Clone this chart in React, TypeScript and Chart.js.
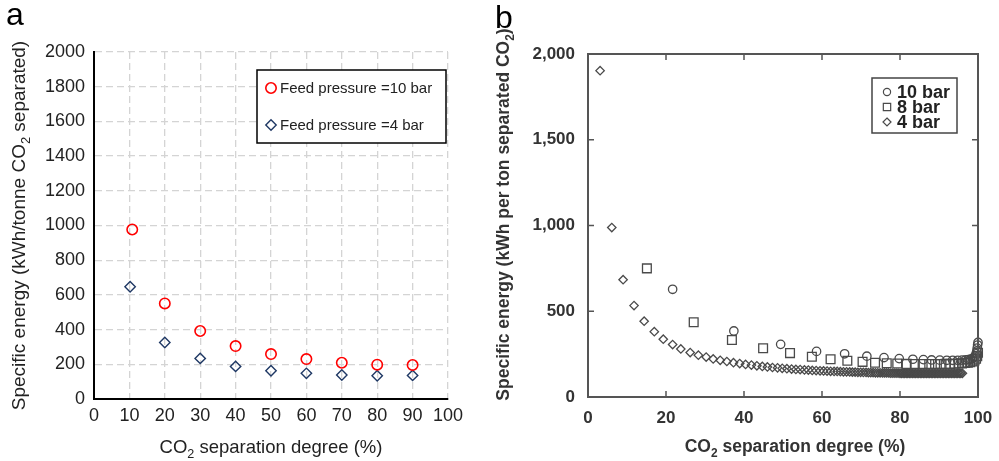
import { useEffect, useRef } from 'react';
import { Chart, registerables } from 'chart.js';

Chart.register(...registerables);

const FONT = '"Liberation Sans", Arial, Helvetica, sans-serif';

// ---------- Panel a ----------
const aSep10 = [10.8, 20, 30, 40, 50, 60, 70, 80, 90];
const aEnergy10 = [977, 551, 392, 305, 259, 230, 209, 198, 196];
const aSep4 = [10.2, 20, 30, 40, 50, 60, 70, 80, 90];
const aEnergy4 = [647, 326, 234, 188, 163, 148, 138, 134, 136];
const aXTicks = [0, 10, 20, 30, 40, 50, 60, 70, 80, 90, 100];
const aYTicks = [0, 200, 400, 600, 800, 1000, 1200, 1400, 1600, 1800, 2000];
const aLabels = ['Feed pressure =10 bar', 'Feed pressure =4 bar'];

// ---------- Panel b ----------
const b10Sep = [21.7, 37.4, 49.4, 58.6, 65.8, 71.5, 75.9, 79.8, 83.3, 86.0, 88.1, 90.2, 92.0, 93.5, 94.8, 95.9, 96.8, 97.5, 98.1, 98.6, 99.0, 99.3, 99.5, 99.7, 99.8, 99.9, 100];
const b10Energy = [628, 385, 307, 266, 252, 238, 230, 224, 220, 218, 216, 215, 214, 214, 214, 215, 216, 218, 221, 225, 231, 240, 252, 268, 285, 303, 318];
const b8Sep = [15.1, 27.1, 36.9, 44.9, 51.8, 57.4, 62.2, 66.5, 70.4, 73.6, 76.6, 79.3, 81.7, 83.8, 85.8, 87.5, 89.0, 90.4, 91.7, 92.9, 94.0, 95.0, 95.9, 96.7, 97.4, 98.0, 98.6, 99.1, 99.5, 99.8, 100];
const b8Energy = [750, 436, 332, 284, 256, 235, 220, 211, 205, 200, 197, 195, 193, 192, 192, 192, 192, 192, 193, 193, 194, 195, 196, 198, 200, 203, 207, 213, 223, 238, 258];
const b4Sep = [3.1, 6.1, 9.0, 11.8, 14.4, 17.0, 19.3, 21.7, 23.8, 26.2, 28.3, 30.3, 32.1, 33.9, 35.6, 37.3, 38.9, 40.4, 41.9, 43.3, 44.7, 46.0, 47.3, 48.6, 49.8, 51.0, 52.2, 53.3, 54.4, 55.5, 56.5, 57.5, 58.5, 59.5, 60.4, 61.3, 62.2, 63.1, 63.9, 64.7, 65.5, 66.3, 67.1, 67.8, 68.5, 69.2, 69.9, 70.6, 71.3, 71.9, 72.5, 73.1, 73.7, 74.3, 74.9, 75.5, 76.0, 76.5, 77.0, 77.5, 78.0, 78.5, 79.0, 79.5, 80.0, 80.4, 80.8, 81.2, 81.6, 82.0, 82.4, 82.8, 83.2, 83.6, 84.0, 84.4, 84.8, 85.2, 85.6, 86.0, 86.4, 86.8, 87.2, 87.6, 88.0, 88.4, 88.8, 89.2, 89.6, 90.0, 90.4, 90.8, 91.2, 91.6, 92.0, 92.4, 92.8, 93.2, 93.6, 94.0, 94.4, 94.8, 95.2, 95.6, 96.0];
const b4Energy = [1903, 988, 684, 533, 442, 381, 337, 306, 280, 259, 244, 233, 222, 214, 207, 200, 195, 190, 186, 182, 178, 175, 172, 170, 167, 165, 163, 161, 160, 158, 157, 155, 154, 153, 152, 151, 150, 149, 149, 148, 147, 147, 146, 145, 145, 144, 144, 143, 143, 142, 142, 142, 141, 141, 141, 140, 140, 140, 140, 139, 139, 139, 139, 139, 138, 138, 138, 138, 138, 138, 138, 138, 137, 137, 137, 137, 137, 137, 137, 137, 137, 137, 137, 137, 137, 137, 137, 137, 137, 137, 137, 137, 137, 137, 137, 137, 137, 137, 137, 137, 137, 138, 138, 138, 138];
const bXTicks = [0, 20, 40, 60, 80, 100];
const bYTicks = [0, 500, 1000, 1500, 2000];
const bLabels = ['10 bar', '8 bar', '4 bar'];

const zip = (xs: number[], ys: number[]) => xs.map((x, i) => ({ x, y: ys[i] }));

type Seg = { t: string; sub?: boolean };

function drawRich(ctx: CanvasRenderingContext2D, segs: Seg[], x: number, y: number, size: number, weight: string, color: string, rotate: boolean) {
  ctx.save();
  ctx.translate(x, y);
  if (rotate) ctx.rotate(-Math.PI / 2);
  const subSize = size * 0.68;
  const widths = segs.map((s) => {
    ctx.font = `${weight} ${s.sub ? subSize : size}px ${FONT}`;
    return ctx.measureText(s.t).width;
  });
  const total = widths.reduce((a, b) => a + b, 0);
  let cx = -total / 2;
  ctx.fillStyle = color;
  ctx.textAlign = 'left';
  ctx.textBaseline = 'alphabetic';
  segs.forEach((s, i) => {
    ctx.font = `${weight} ${s.sub ? subSize : size}px ${FONT}`;
    ctx.fillText(s.t, cx, s.sub ? size * 0.28 : 0);
    cx += widths[i];
  });
  ctx.restore();
}

function drawMarker(ctx: CanvasRenderingContext2D, style: string, x: number, y: number, r: number, color: string, lw: number) {
  ctx.save();
  ctx.strokeStyle = color;
  ctx.lineWidth = lw;
  ctx.beginPath();
  if (style === 'circle') ctx.arc(x, y, r, 0, Math.PI * 2);
  else if (style === 'rect') {
    const s = r * Math.SQRT1_2;
    ctx.rect(x - s, y - s, 2 * s, 2 * s);
  } else {
    ctx.moveTo(x, y - r);
    ctx.lineTo(x + r, y);
    ctx.lineTo(x, y + r);
    ctx.lineTo(x - r, y);
    ctx.closePath();
  }
  ctx.stroke();
  ctx.restore();
}

function tickSetter(values: number[]) {
  return (scale: any) => {
    scale.ticks = values.map((v) => ({ value: v }));
  };
}

function configA(): any {
  const decor = {
    id: 'decorA',
    afterDraw(chart: any) {
      const ctx: CanvasRenderingContext2D = chart.ctx;
      ctx.save();
      ctx.fillStyle = '#000';
      ctx.font = `32px ${FONT}`;
      ctx.textAlign = 'left';
      ctx.textBaseline = 'alphabetic';
      ctx.fillText('a', 6, 25);
      ctx.restore();
      drawRich(ctx, [{ t: 'Specific energy (kWh/tonne CO' }, { t: '2', sub: true }, { t: ' separated)' }], 25, 225.5, 19, 'normal', '#222', true);
      const xs = chart.scales.x;
      drawRich(ctx, [{ t: 'CO' }, { t: '2', sub: true }, { t: ' separation degree (%)' }], (xs.left + xs.right) / 2, 453, 18.5, 'normal', '#222', false);
      ctx.save();
      ctx.fillStyle = '#fff';
      ctx.fillRect(257, 70, 189, 73);
      ctx.strokeStyle = '#000';
      ctx.lineWidth = 1.5;
      ctx.strokeRect(257, 70, 189, 73);
      const rows = [88, 125];
      chart.data.datasets.forEach((ds: any, i: number) => {
        drawMarker(ctx, ds.pointStyle, 271, rows[i], ds.pointRadius, ds.borderColor, ds.borderWidth);
        ctx.fillStyle = '#222';
        ctx.font = `15px ${FONT}`;
        ctx.textAlign = 'left';
        ctx.textBaseline = 'middle';
        ctx.fillText(ds.label, 280, rows[i] + 1);
      });
      ctx.restore();
    },
  };
  return {
    type: 'scatter',
    data: {
      datasets: [
        { label: aLabels[0], data: zip(aSep10, aEnergy10), pointStyle: 'circle', pointRadius: 5.2, borderColor: '#ff0000', backgroundColor: 'rgba(255,255,255,0)', borderWidth: 1.6, clip: false },
        { label: aLabels[1], data: zip(aSep4, aEnergy4), pointStyle: 'rectRot', pointRadius: 5.2, borderColor: '#1f3864', backgroundColor: 'rgba(255,255,255,0)', borderWidth: 1.4, clip: false },
      ],
    },
    options: {
      animation: false,
      responsive: false,
      devicePixelRatio: 1,
      events: [],
      layout: { padding: { top: 52, right: 42, left: 0, bottom: 0 } },
      plugins: { legend: { display: false }, tooltip: { enabled: false } },
      scales: {
        x: {
          type: 'linear', min: 0, max: 100,
          afterBuildTicks: tickSetter(aXTicks),
          afterFit: (s: any) => { s.height = 62; },
          grid: { color: '#d4d4d4', lineWidth: 1.3, drawTicks: false },
          border: { display: true, color: '#000', width: 2, dash: [7, 4] },
          ticks: { padding: 6, color: '#222', font: { family: FONT, size: 18 }, maxRotation: 0, autoSkip: false, callback: (v: number) => String(v) },
        },
        y: {
          type: 'linear', min: 0, max: 2000,
          afterBuildTicks: tickSetter(aYTicks),
          afterFit: (s: any) => { s.width = 94; },
          grid: { color: '#d4d4d4', lineWidth: 1.3, drawTicks: false },
          border: { display: true, color: '#000', width: 2, dash: [7, 4] },
          ticks: { padding: 9, color: '#222', font: { family: FONT, size: 18 }, autoSkip: false, callback: (v: number) => String(v) },
        },
      },
    },
    plugins: [decor],
  };
}

function configB(): any {
  const frameColor = '#555';
  const decor = {
    id: 'decorB',
    afterDraw(chart: any) {
      const ctx: CanvasRenderingContext2D = chart.ctx;
      const { left, right, top, bottom } = chart.chartArea;
      const xs = chart.scales.x;
      const ys = chart.scales.y;
      ctx.save();
      ctx.strokeStyle = frameColor;
      ctx.lineWidth = 2;
      ctx.beginPath();
      ctx.moveTo(left - 1, top);
      ctx.lineTo(right, top);
      ctx.lineTo(right, bottom + 1);
      ctx.stroke();
      ctx.lineWidth = 1.5;
      ctx.beginPath();
      xs.ticks.forEach((t: any) => {
        if (t.value <= xs.min || t.value >= xs.max) return;
        const px = xs.getPixelForValue(t.value);
        ctx.moveTo(px, bottom);
        ctx.lineTo(px, bottom - 6);
        ctx.moveTo(px, top);
        ctx.lineTo(px, top + 6);
      });
      ys.ticks.forEach((t: any) => {
        if (t.value <= ys.min || t.value >= ys.max) return;
        const py = ys.getPixelForValue(t.value);
        ctx.moveTo(left, py);
        ctx.lineTo(left + 6, py);
        ctx.moveTo(right, py);
        ctx.lineTo(right - 6, py);
      });
      ctx.stroke();
      // x tick labels (from the scale's own ticks)
      ctx.fillStyle = '#333';
      ctx.font = `bold 17px ${FONT}`;
      ctx.textAlign = 'center';
      ctx.textBaseline = 'alphabetic';
      xs.ticks.forEach((t: any) => {
        ctx.fillText(String(t.value), xs.getPixelForValue(t.value), bottom + 26);
      });
      ctx.fillStyle = '#000';
      ctx.font = `32px ${FONT}`;
      ctx.textAlign = 'left';
      ctx.fillText('b', 5, 28);
      ctx.restore();
      drawRich(ctx, [{ t: 'Specific energy (kWh per ton separated CO' }, { t: '2', sub: true }, { t: ')' }], 19, 214.5, 17.5, 'bold', '#333', true);
      drawRich(ctx, [{ t: 'CO' }, { t: '2', sub: true }, { t: ' separation degree (%)' }], 305, 452, 17.5, 'bold', '#333', false);
      ctx.save();
      ctx.fillStyle = '#fff';
      ctx.fillRect(382, 78, 85, 55);
      ctx.strokeStyle = '#444';
      ctx.lineWidth = 1.5;
      ctx.strokeRect(382, 78, 85, 55);
      const rows = [92, 107, 122];
      const radii = [3.6, 5.2, 4];
      chart.data.datasets.forEach((ds: any, i: number) => {
        drawMarker(ctx, ds.pointStyle, 397, rows[i], radii[i], ds.borderColor, 1.2);
        ctx.fillStyle = '#222';
        ctx.font = `bold 18px ${FONT}`;
        ctx.textAlign = 'left';
        ctx.textBaseline = 'middle';
        ctx.fillText(ds.label, 407, rows[i] + 1);
      });
      ctx.restore();
    },
  };
  const markerColor = '#4a4a4a';
  return {
    type: 'scatter',
    data: {
      datasets: [
        { label: bLabels[0], data: zip(b10Sep, b10Energy), pointStyle: 'circle', pointRadius: 4.2, borderColor: markerColor, backgroundColor: 'rgba(255,255,255,0)', borderWidth: 1.3, clip: false },
        { label: bLabels[1], data: zip(b8Sep, b8Energy), pointStyle: 'rect', pointRadius: 6.2, borderColor: markerColor, backgroundColor: 'rgba(255,255,255,0)', borderWidth: 1.3, clip: false },
        { label: bLabels[2], data: zip(b4Sep, b4Energy), pointStyle: 'rectRot', pointRadius: 4.2, borderColor: markerColor, backgroundColor: 'rgba(255,255,255,0)', borderWidth: 1.3, clip: false },
      ],
    },
    options: {
      animation: false,
      responsive: false,
      devicePixelRatio: 1,
      events: [],
      layout: { padding: { top: 54, right: 21, left: 0, bottom: 0 } },
      plugins: { legend: { display: false }, tooltip: { enabled: false } },
      scales: {
        x: {
          type: 'linear', min: 0, max: 100,
          afterBuildTicks: tickSetter(bXTicks),
          afterFit: (s: any) => { s.height = 64; },
          grid: { display: false, drawTicks: false },
          border: { display: true, color: frameColor, width: 2 },
          ticks: { display: false },
        },
        y: {
          type: 'linear', min: 0, max: 2000,
          afterBuildTicks: tickSetter(bYTicks),
          afterFit: (s: any) => { s.width = 98; },
          grid: { display: false, drawTicks: false },
          border: { display: true, color: frameColor, width: 2 },
          ticks: {
            padding: 13, color: '#333', font: { family: FONT, size: 17, weight: 'bold' }, autoSkip: false,
            callback: (v: number) => v.toLocaleString('en-US'),
          },
        },
      },
    },
    plugins: [decor],
  };
}

export default function App() {
  const refA = useRef<HTMLCanvasElement>(null);
  const refB = useRef<HTMLCanvasElement>(null);
  useEffect(() => {
    const ca = new Chart(refA.current as HTMLCanvasElement, configA());
    const cb = new Chart(refB.current as HTMLCanvasElement, configB());
    return () => {
      ca.destroy();
      cb.destroy();
    };
  }, []);
  return (
    <div style={{ position: 'fixed', left: 0, top: 0, width: 999, height: 461, background: '#fff' }}>
      <canvas ref={refA} width={490} height={461} style={{ position: 'absolute', left: 0, top: 0, width: 490, height: 461 }} />
      <canvas ref={refB} width={509} height={461} style={{ position: 'absolute', left: 490, top: 0, width: 509, height: 461 }} />
    </div>
  );
}
